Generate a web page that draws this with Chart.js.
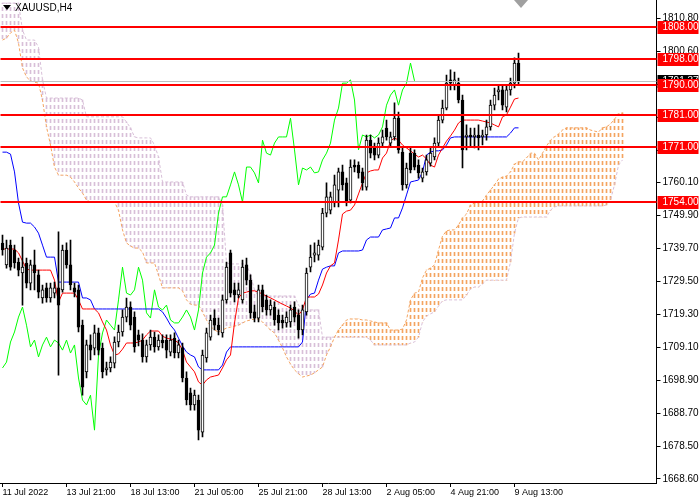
<!DOCTYPE html>
<html>
<head>
<meta charset="utf-8">
<script src="https://cdn.jsdelivr.net/npm/chart.js@4.4.1/dist/chart.umd.min.js"></script>
<style>
  html, body { margin: 0; padding: 0; background: #fff; }
  canvas { display: block; }
</style>
</head>
<body>
<canvas id="chart" width="700" height="500"></canvas>
<script>
const symbolTitle = 'XAUUSD,H4';
const barSlots = 164; // 130 candles, cloud runs 26 bars ahead, then empty space

const xTickIndex = [0, 16, 32, 48, 64, 80, 96, 112, 128];
const xTickText = ['11 Jul 2022', '13 Jul 21:00', '18 Jul 13:00', '21 Jul 05:00', '25 Jul 21:00',
  '28 Jul 13:00', '2 Aug 05:00', '4 Aug 21:00', '9 Aug 13:00'];
const yTicks = [1810.8, 1800.6, 1790.4, 1780.2, 1770.0, 1760.1, 1749.9, 1739.7, 1729.5,
  1719.3, 1709.1, 1698.9, 1688.7, 1678.5, 1668.6];
const levels = [1808, 1798, 1790, 1781, 1771, 1754];
const lastPrice = 1791.37;

// H4 candles
const opens = [
  1741.3, 1734.6, 1740.7, 1739.2, 1735.5, 1732.1, 1735.2, 1729.0, 1734.6, 1731.5,
  1724.4, 1727.5, 1724.4, 1725.9, 1727.5, 1726.9, 1739.2, 1734.6, 1727.5, 1726.9,
  1716.0, 1701.6, 1709.9, 1708.9, 1713.6, 1708.9, 1702.2, 1702.8, 1704.3, 1710.8,
  1713.9, 1718.5, 1721.6, 1718.5, 1713.0, 1711.4, 1706.2, 1709.9, 1712.3, 1709.3,
  1711.4, 1711.4, 1707.7, 1712.0, 1707.4, 1709.0, 1699.7, 1695.1, 1691.4, 1692.9,
  1683.0, 1705.9, 1712.3, 1718.2, 1716.0, 1713.6, 1723.8, 1738.3, 1726.9, 1725.3,
  1723.8, 1734.6, 1729.9, 1720.1, 1718.2, 1726.9, 1723.8, 1720.7, 1721.6, 1719.1,
  1717.6, 1716.7, 1717.0, 1721.6, 1719.1, 1714.5, 1720.1, 1733.9, 1737.6, 1737.6,
  1740.1, 1750.6, 1751.5, 1753.7, 1757.7, 1763.3, 1759.9, 1754.6, 1765.4, 1765.4,
  1763.3, 1758.6, 1773.1, 1770.7, 1768.5, 1772.2, 1776.8, 1772.2, 1774.1, 1779.9,
  1769.4, 1759.3, 1769.1, 1769.1, 1765.4, 1761.4, 1763.3, 1766.0, 1767.9, 1772.2,
  1779.3, 1783.0, 1791.7, 1790.1, 1790.7, 1785.5, 1774.1, 1774.7, 1774.1, 1774.7,
  1774.1, 1774.7, 1777.2, 1783.9, 1788.0, 1788.6, 1783.3, 1788.6, 1790.7, 1796.9
];
const highs = [
  1743.8, 1742.3, 1742.3, 1740.7, 1736.7, 1743.2, 1736.7, 1736.1, 1739.2, 1733.0,
  1728.4, 1729.0, 1729.0, 1729.3, 1744.8, 1740.7, 1741.4, 1742.3, 1729.0, 1728.4,
  1717.6, 1711.4, 1713.0, 1716.0, 1715.1, 1710.5, 1704.6, 1706.2, 1712.4, 1716.0,
  1720.7, 1724.4, 1723.2, 1720.1, 1714.5, 1713.3, 1711.4, 1714.5, 1713.9, 1713.0,
  1713.0, 1713.0, 1713.0, 1713.6, 1711.4, 1710.5, 1701.6, 1696.6, 1696.0, 1694.4,
  1708.3, 1715.1, 1719.1, 1720.7, 1718.2, 1725.3, 1735.5, 1739.2, 1729.0, 1729.0,
  1736.1, 1736.7, 1731.5, 1722.2, 1728.4, 1728.4, 1725.3, 1723.8, 1723.2, 1720.7,
  1719.1, 1720.1, 1722.2, 1723.2, 1720.7, 1722.2, 1733.6, 1740.7, 1741.4, 1742.3,
  1752.1, 1759.9, 1757.1, 1762.3, 1764.5, 1765.4, 1761.4, 1767.0, 1767.0, 1766.4,
  1764.5, 1774.7, 1774.7, 1772.2, 1773.8, 1776.2, 1779.3, 1775.6, 1784.6, 1781.8,
  1770.7, 1766.0, 1770.7, 1770.1, 1767.0, 1764.5, 1768.5, 1770.7, 1773.8, 1780.8,
  1785.5, 1793.2, 1794.8, 1794.1, 1792.3, 1787.0, 1777.8, 1776.8, 1776.8, 1777.8,
  1776.2, 1779.3, 1785.5, 1789.2, 1790.1, 1790.1, 1790.1, 1792.3, 1798.5, 1800.0
];
const lows = [
  1737.6, 1733.6, 1733.0, 1733.6, 1731.2, 1722.2, 1727.5, 1726.9, 1726.9, 1724.4,
  1722.8, 1723.1, 1723.1, 1724.4, 1700.6, 1726.2, 1733.6, 1726.9, 1724.7, 1713.9,
  1694.4, 1699.7, 1705.3, 1706.8, 1706.8, 1699.7, 1700.6, 1701.6, 1702.8, 1709.3,
  1712.6, 1717.0, 1714.5, 1707.7, 1709.6, 1704.6, 1704.6, 1708.3, 1707.7, 1708.3,
  1709.0, 1705.9, 1706.5, 1705.9, 1705.9, 1698.5, 1691.4, 1689.8, 1689.8, 1680.6,
  1681.5, 1704.6, 1711.4, 1714.5, 1713.0, 1712.3, 1722.8, 1724.7, 1723.2, 1724.4,
  1722.8, 1728.4, 1718.2, 1717.0, 1717.0, 1720.1, 1719.1, 1719.1, 1716.0, 1714.5,
  1715.1, 1715.4, 1715.4, 1717.0, 1712.0, 1713.0, 1719.1, 1732.4, 1735.5, 1736.1,
  1739.2, 1749.4, 1750.3, 1752.5, 1752.5, 1757.7, 1752.8, 1753.7, 1763.3, 1761.4,
  1757.7, 1757.7, 1767.6, 1767.0, 1767.6, 1771.0, 1773.1, 1771.0, 1773.1, 1769.1,
  1757.7, 1758.3, 1763.0, 1763.9, 1761.4, 1760.2, 1762.3, 1765.1, 1767.0, 1771.3,
  1778.4, 1782.4, 1788.6, 1788.6, 1784.6, 1764.5, 1770.1, 1771.0, 1770.7, 1770.1,
  1771.6, 1773.1, 1776.2, 1782.4, 1785.5, 1782.4, 1781.8, 1787.0, 1789.2, 1790.1
];
const closes = [
  1739.2, 1739.8, 1733.9, 1735.2, 1733.0, 1733.9, 1729.0, 1734.6, 1732.1, 1726.2,
  1726.9, 1724.4, 1727.5, 1727.5, 1722.2, 1739.2, 1734.6, 1728.4, 1726.2, 1715.4,
  1696.9, 1709.9, 1708.3, 1713.6, 1708.3, 1701.6, 1702.8, 1704.6, 1710.8, 1713.9,
  1718.5, 1721.6, 1716.0, 1709.3, 1711.4, 1706.2, 1709.9, 1712.3, 1709.3, 1711.4,
  1710.5, 1708.3, 1711.4, 1707.4, 1709.9, 1699.7, 1692.9, 1691.4, 1694.4, 1683.6,
  1706.8, 1713.6, 1717.6, 1716.0, 1714.5, 1723.8, 1733.9, 1725.9, 1725.3, 1726.9,
  1733.9, 1729.9, 1719.8, 1718.2, 1726.9, 1721.6, 1720.7, 1722.2, 1717.6, 1716.7,
  1716.7, 1718.5, 1720.7, 1718.5, 1714.5, 1720.7, 1732.1, 1737.0, 1738.3, 1740.7,
  1750.6, 1755.6, 1755.6, 1759.3, 1763.3, 1759.3, 1754.0, 1764.8, 1764.8, 1763.0,
  1759.9, 1773.1, 1769.1, 1768.5, 1772.2, 1774.1, 1774.1, 1774.1, 1779.9, 1770.1,
  1759.3, 1764.5, 1763.9, 1764.8, 1763.0, 1763.3, 1767.0, 1769.1, 1772.2, 1779.3,
  1783.0, 1790.7, 1790.7, 1791.7, 1785.5, 1770.1, 1774.7, 1774.1, 1774.7, 1773.8,
  1774.7, 1777.2, 1783.9, 1787.0, 1788.6, 1783.9, 1788.6, 1790.7, 1796.9, 1791.4
];

// Ichimoku lines
const tenkan = [
  1739.5, 1739.5, 1739.5, 1739.5, 1738.3, 1735.8, 1733.3, 1733.0, 1733.0, 1733.0,
  1733.0, 1733.0, 1733.0, 1729.9, 1723.1, 1725.9, 1725.9, 1725.9, 1725.9, 1723.8,
  1721.0, 1721.0, 1721.0, 1721.0, 1719.8, 1717.0, 1714.5, 1709.9, 1706.8, 1707.1,
  1708.6, 1710.5, 1710.5, 1710.5, 1710.8, 1711.4, 1713.0, 1714.2, 1714.2, 1714.2,
  1712.6, 1712.0, 1711.7, 1711.4, 1710.5, 1708.3, 1704.6, 1703.1, 1701.6, 1698.5,
  1697.5, 1699.1, 1700.0, 1700.3, 1700.6, 1702.8, 1705.3, 1706.8, 1716.7, 1724.4,
  1725.9, 1726.2, 1726.6, 1726.6, 1726.2, 1725.6, 1725.0, 1724.4, 1723.8, 1723.1,
  1722.5, 1721.9, 1721.3, 1720.4, 1719.1, 1720.7, 1724.7, 1724.7, 1724.7, 1725.6,
  1728.4, 1732.1, 1734.3, 1735.2, 1742.3, 1750.3, 1751.2, 1751.5, 1753.1, 1756.5,
  1759.9, 1763.0, 1763.6, 1763.9, 1763.9, 1767.6, 1769.1, 1772.8, 1773.8, 1773.1,
  1771.6, 1770.7, 1769.8, 1768.8, 1767.9, 1768.5, 1767.3, 1765.4, 1764.8, 1768.5,
  1770.7, 1772.8, 1774.4, 1776.2, 1778.4, 1779.3, 1779.3, 1779.3, 1779.3, 1779.3,
  1779.0, 1778.7, 1778.4, 1777.8, 1777.2, 1780.3, 1780.9, 1783.3, 1785.8, 1786.1
];
const kijun = [
  1769.4, 1769.4, 1768.8, 1763.3, 1753.7, 1747.8, 1747.5, 1747.5, 1746.3, 1744.4,
  1740.7, 1737.0, 1737.0, 1737.0, 1729.3, 1729.3, 1729.3, 1729.3, 1729.3, 1729.3,
  1724.4, 1724.4, 1723.8, 1721.0, 1721.0, 1721.0, 1721.0, 1721.0, 1721.0, 1721.0,
  1721.0, 1721.0, 1721.0, 1721.0, 1721.0, 1721.0, 1721.0, 1721.0, 1721.0, 1721.0,
  1720.1, 1718.2, 1716.0, 1714.5, 1712.0, 1709.6, 1707.7, 1706.8, 1706.2, 1703.1,
  1702.2, 1702.2, 1702.2, 1702.2, 1702.2, 1703.7, 1707.7, 1709.3, 1709.3, 1709.3,
  1709.3, 1709.3, 1709.3, 1709.3, 1709.3, 1709.3, 1709.3, 1709.3, 1709.3, 1709.3,
  1709.3, 1709.3, 1709.3, 1709.3, 1709.3, 1710.8, 1723.8, 1725.6, 1725.9, 1729.9,
  1733.3, 1733.9, 1734.3, 1734.3, 1738.3, 1738.9, 1738.9, 1738.9, 1738.9, 1738.9,
  1739.2, 1742.3, 1743.2, 1743.2, 1743.2, 1745.4, 1745.7, 1746.0, 1749.1, 1749.1,
  1752.2, 1756.2, 1760.2, 1760.5, 1760.8, 1763.3, 1768.5, 1769.4, 1769.8, 1769.8,
  1770.1, 1771.6, 1773.8, 1774.1, 1774.1, 1774.1, 1774.1, 1774.1, 1774.1, 1774.1,
  1774.1, 1774.1, 1774.1, 1774.1, 1774.1, 1774.1, 1774.1, 1775.3, 1776.9, 1776.9
];
const chikou = [
  1702.8, 1704.6, 1710.8, 1713.9, 1718.5, 1721.6, 1716.0, 1709.3, 1711.4, 1706.2,
  1709.9, 1712.3, 1709.3, 1711.4, 1710.5, 1708.3, 1711.4, 1707.4, 1709.9, 1699.7,
  1692.9, 1691.4, 1694.4, 1683.6, 1706.8, 1713.6, 1717.6, 1716.0, 1714.5, 1723.8,
  1733.9, 1725.9, 1725.3, 1726.9, 1733.9, 1729.9, 1719.8, 1718.2, 1726.9, 1721.6,
  1720.7, 1722.2, 1717.6, 1716.7, 1716.7, 1718.5, 1720.7, 1718.5, 1714.5, 1720.7,
  1732.1, 1737.0, 1738.3, 1740.7, 1750.6, 1755.6, 1755.6, 1759.3, 1763.3, 1759.3,
  1754.0, 1764.8, 1764.8, 1763.0, 1759.9, 1773.1, 1769.1, 1768.5, 1772.2, 1774.1,
  1774.1, 1774.1, 1779.9, 1770.1, 1759.3, 1764.5, 1763.9, 1764.8, 1763.0, 1763.3,
  1767.0, 1769.1, 1772.2, 1779.3, 1783.0, 1790.7, 1790.7, 1791.7, 1785.5, 1770.1,
  1774.7, 1774.1, 1774.7, 1773.8, 1774.7, 1777.2, 1783.9, 1787.0, 1788.6, 1783.9,
  1788.6, 1790.7, 1796.9, 1791.4
];
const senkouA = [
  1804.0, 1804.6, 1806.2, 1807.1, 1803.1, 1795.4, 1792.6, 1791.4, 1791.0, 1790.7,
  1785.5, 1777.2, 1771.6, 1764.8, 1762.3, 1762.3, 1762.3, 1761.7, 1760.2, 1758.3,
  1756.8, 1754.6, 1754.0, 1754.0, 1754.0, 1754.0, 1754.0, 1754.0, 1754.0, 1751.5,
  1745.4, 1741.4, 1740.4, 1739.8, 1739.8, 1738.6, 1735.2, 1735.2, 1735.2, 1731.5,
  1727.5, 1727.5, 1727.5, 1727.5, 1727.5, 1726.6, 1723.8, 1722.5, 1722.2, 1722.2,
  1720.1, 1717.6, 1715.7, 1714.5, 1713.9, 1714.5, 1715.1, 1715.4, 1715.7, 1716.0,
  1716.7, 1717.3, 1717.6, 1717.9, 1717.9, 1717.0, 1715.7, 1714.5, 1713.6, 1711.4,
  1709.0, 1706.2, 1704.0, 1702.2, 1701.0, 1700.0, 1700.3, 1700.6, 1701.3, 1702.2,
  1703.1, 1706.8, 1709.3, 1712.3, 1714.5, 1716.0, 1717.6, 1717.9, 1717.9, 1717.9,
  1717.6, 1717.6, 1717.3, 1717.0, 1716.7, 1716.7, 1716.7, 1714.5, 1714.5, 1714.5,
  1714.8, 1717.6, 1723.8, 1725.9, 1726.2, 1730.6, 1733.0, 1733.6, 1734.6, 1739.2,
  1743.5, 1745.1, 1745.4, 1745.4, 1746.9, 1749.1, 1750.3, 1753.1, 1753.7, 1753.7,
  1754.3, 1756.2, 1757.7, 1759.3, 1761.1, 1761.7, 1762.0, 1763.3, 1765.7, 1766.4,
  1766.4, 1767.6, 1769.1, 1769.1, 1767.0, 1769.1, 1771.3, 1773.1, 1774.1, 1775.0,
  1776.2, 1776.9, 1776.9, 1776.9, 1776.9, 1776.9, 1776.9, 1776.2, 1775.9, 1775.6,
  1776.9, 1777.2, 1778.1, 1779.6, 1781.2, 1781.5
];
const senkouB = [
  1815.4, 1815.4, 1815.4, 1815.4, 1815.4, 1807.1, 1804.0, 1804.0, 1804.0, 1801.8,
  1791.7, 1786.1, 1786.1, 1786.1, 1786.1, 1786.1, 1786.1, 1786.1, 1786.1, 1786.1,
  1785.5, 1780.3, 1780.3, 1780.3, 1780.3, 1780.3, 1780.3, 1780.3, 1780.3, 1780.3,
  1780.3, 1778.7, 1776.9, 1774.1, 1773.8, 1773.8, 1773.8, 1773.8, 1771.6, 1767.9,
  1760.2, 1760.2, 1760.2, 1760.2, 1760.2, 1760.2, 1756.2, 1755.6, 1755.6, 1755.6,
  1755.6, 1755.6, 1755.6, 1755.6, 1755.6, 1753.1, 1735.2, 1734.9, 1734.9, 1734.9,
  1734.9, 1734.9, 1731.5, 1726.9, 1725.0, 1725.0, 1725.0, 1725.0, 1725.0, 1725.0,
  1725.0, 1725.0, 1725.0, 1725.0, 1722.2, 1720.7, 1720.7, 1720.7, 1720.7, 1720.7,
  1712.3, 1712.3, 1712.3, 1712.3, 1712.3, 1712.3, 1712.3, 1712.3, 1712.3, 1712.3,
  1712.3, 1712.3, 1711.4, 1709.9, 1709.9, 1709.9, 1709.9, 1709.9, 1709.9, 1709.9,
  1709.9, 1709.9, 1710.5, 1710.8, 1712.3, 1717.0, 1718.8, 1719.5, 1720.1, 1721.9,
  1723.5, 1723.8, 1723.8, 1723.8, 1723.8, 1723.8, 1725.3, 1727.2, 1727.8, 1727.8,
  1728.7, 1729.9, 1729.9, 1729.9, 1729.9, 1729.9, 1729.9, 1735.5, 1744.4, 1749.1,
  1749.4, 1749.4, 1749.4, 1749.4, 1749.4, 1749.4, 1749.4, 1751.5, 1752.5, 1752.8,
  1752.8, 1752.8, 1752.8, 1752.8, 1752.8, 1752.8, 1752.8, 1752.8, 1752.8, 1752.8,
  1752.8, 1753.1, 1754.6, 1759.3, 1765.4, 1767.0
];

// dotted hatch used by MT4 to fill the cloud
function hatch(color) {
  const c = document.createElement('canvas');
  c.width = 1; c.height = 7;
  const g = c.getContext('2d');
  g.fillStyle = color;
  g.fillRect(0, 0, 1, 4);
  return g.createPattern(c, 'repeat');
}
const orangeHatch = hatch('#f4a460');
const plumHatch = hatch('#d8bfd8');

const labels = Array.from({length: barSlots}, (_, i) => String(i));
const bodies = opens.map((o, i) => [o, closes[i]]);
const wicks = lows.map((l, i) => [l, highs[i]]);
const cloud = senkouA.map((a, i) => [a, senkouB[i]]);
const bull = opens.map((o, i) => closes[i] >= o);

const font = 'Liberation Sans';

const overlay = {
  id: 'overlay',
  afterDatasetsDraw(chart) {
    const {ctx, chartArea: a, scales: {y}} = chart;
    ctx.save();
    let p = Math.round(y.getPixelForValue(lastPrice)) + 0.5;
    ctx.strokeStyle = '#c0c0c0';
    ctx.lineWidth = 1;
    ctx.beginPath(); ctx.moveTo(a.left, p); ctx.lineTo(a.right, p); ctx.stroke();
    ctx.strokeStyle = '#ff0000';
    ctx.lineWidth = 2;
    levels.forEach(v => {
      const q = Math.round(y.getPixelForValue(v));
      ctx.beginPath(); ctx.moveTo(a.left, q); ctx.lineTo(a.right, q); ctx.stroke();
    });
    ctx.restore();
  },
  afterDraw(chart) {
    const {ctx, chartArea: a, scales: {y}} = chart;
    ctx.save();
    ctx.font = '10px "' + font + '"';
    ctx.textBaseline = 'middle';
    const box = (v, bg) => {
      const q = Math.round(y.getPixelForValue(v));
      ctx.fillStyle = bg;
      ctx.fillRect(a.right + 1, q - 6, 41, 13);
      ctx.fillStyle = '#ffffff';
      ctx.fillText(v.toFixed(2), a.right + 6, q + 0.5);
    };
    box(lastPrice, '#000000');
    levels.forEach(v => box(v, '#ff0000'));

    // symbol caption
    ctx.fillStyle = '#000000';
    ctx.beginPath(); ctx.moveTo(3, 5); ctx.lineTo(11, 5); ctx.lineTo(7, 10); ctx.closePath(); ctx.fill();
    ctx.fillText(symbolTitle, 15, 8);

    // chart shift marker
    ctx.fillStyle = '#a0a0a0';
    ctx.beginPath(); ctx.moveTo(514, 0); ctx.lineTo(528, 0); ctx.lineTo(521, 8); ctx.closePath(); ctx.fill();
    ctx.restore();
  }
};

new Chart(document.getElementById('chart').getContext('2d'), {
  type: 'bar',
  data: {
    labels: labels,
    datasets: [{
      type: 'bar',
      data: bodies,
      order: 0,
      grouped: false,
      barThickness: 3,
      minBarLength: 1,
      borderWidth: 1,
      borderSkipped: false,
      borderColor: '#000000',
      backgroundColor: bull.map(b => b ? '#ffffff' : '#000000')
    }, {
      type: 'bar',
      data: wicks,
      order: 1,
      grouped: false,
      barThickness: 1,
      borderWidth: 0,
      backgroundColor: '#000000'
    }, {
      type: 'line',
      data: tenkan,
      order: 2,
      borderColor: '#ff0000',
      borderWidth: 1,
      pointRadius: 0,
      tension: 0
    }, {
      type: 'line',
      data: kijun,
      order: 2,
      borderColor: '#0000ff',
      borderWidth: 1,
      pointRadius: 0,
      tension: 0
    }, {
      type: 'line',
      data: chikou,
      order: 2,
      borderColor: '#00ff00',
      borderWidth: 1,
      pointRadius: 0,
      tension: 0
    }, {
      type: 'line',
      data: senkouA,
      order: 3,
      borderColor: '#f4a460',
      borderWidth: 1,
      borderDash: [3, 2],
      pointRadius: 0,
      tension: 0
    }, {
      type: 'line',
      data: senkouB,
      order: 3,
      borderColor: '#d8bfd8',
      borderWidth: 1,
      borderDash: [3, 2],
      pointRadius: 0,
      tension: 0
    }, {
      type: 'bar',
      data: cloud,
      order: 4,
      grouped: false,
      barThickness: 1,
      borderWidth: 0,
      backgroundColor: senkouA.map((v, i) => v >= senkouB[i] ? orangeHatch : plumHatch)
    }]
  },
  options: {
    responsive: false,
    animation: false,
    devicePixelRatio: 1,
    layout: { padding: { left: 0.5, top: 0, right: 0, bottom: 0 } },
    plugins: {
      legend: { display: false },
      tooltip: { enabled: false }
    },
    scales: {
      x: {
        type: 'category',
        offset: true,
        grid: { display: true, drawOnChartArea: false, offset: false, tickLength: 4, color: '#000000' },
        border: { display: true, color: '#000000' },
        afterBuildTicks: scale => { scale.ticks = xTickIndex.map(v => ({ value: v })); },
        afterFit: scale => {
          scale.height = 17;
          scale.paddingLeft = 0;
          scale.paddingRight = 0;
        },
        ticks: {
          autoSkip: false,
          maxRotation: 0,
          align: 'start',
          padding: 0,
          color: '#000000',
          font: { family: font, size: 9 },
          callback: value => xTickText[xTickIndex.indexOf(value)]
        }
      },
      y: {
        type: 'linear',
        position: 'right',
        min: 1667.29,
        max: 1816.36,
        grid: { display: true, drawOnChartArea: false, tickLength: 4, color: '#000000' },
        border: { display: true, color: '#000000' },
        afterBuildTicks: scale => { scale.ticks = yTicks.map(v => ({ value: v })); },
        afterFit: scale => {
          scale.width = 43.5;
          scale.paddingTop = 0;
          scale.paddingBottom = 0;
        },
        ticks: {
          autoSkip: false,
          padding: 2,
          color: '#000000',
          font: { family: font, size: 10 },
          callback: value => value.toFixed(2)
        }
      }
    }
  },
  plugins: [overlay]
});
</script>
</body>
</html>
